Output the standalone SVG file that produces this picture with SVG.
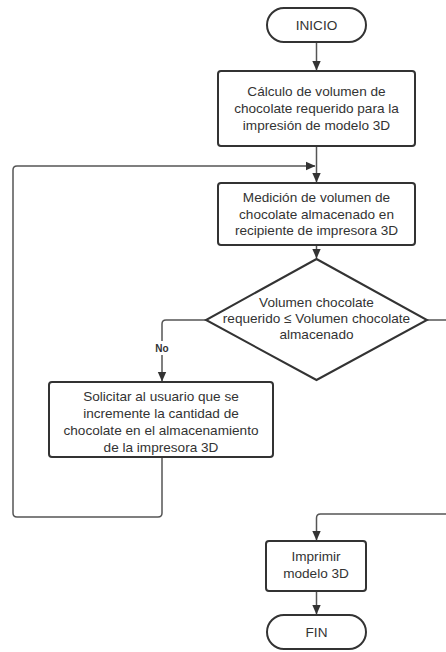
<svg xmlns="http://www.w3.org/2000/svg" width="446" height="652" viewBox="0 0 446 652">
<style>
.n{fill:#fff;stroke:#333;stroke-width:2}
.t{font-family:"Liberation Sans",Arial,sans-serif;font-size:13.6px;fill:#333;text-anchor:middle;dominant-baseline:central}
.c{fill:none;stroke:#555;stroke-width:1.5}
.lb{font-family:"Liberation Sans",Arial,sans-serif;font-size:10px;font-weight:bold;fill:#333;text-anchor:middle;dominant-baseline:central}
</style>
<defs>
<marker id="a" markerWidth="10" markerHeight="10" refX="9" refY="5" orient="auto" markerUnits="userSpaceOnUse">
<path d="M0,0.8 L9.5,5 L0,9.2 Z" fill="#333"/>
</marker>
</defs>
<rect width="446" height="652" fill="#fff"/>
<g id="connectors">
<path class="c" d="M316.5,42 V70" marker-end="url(#a)"/>
<path class="c" d="M316.5,146 V182" marker-end="url(#a)"/>
<path class="c" d="M162,457 V513 Q162,517 158,517 H17 Q13,517 13,513 V170 Q13,166 17,166 H315" marker-end="url(#a)"/>
<path class="c" d="M316.5,245 V258" marker-end="url(#a)"/>
<path class="c" d="M206,320 H166 Q162,320 162,324 V381" marker-end="url(#a)"/>
<path class="c" d="M427,320 H446"/>
<path class="c" d="M446,514 H320.5 Q316.5,514 316.5,518 V540" marker-end="url(#a)"/>
<path class="c" d="M316.5,591 V614" marker-end="url(#a)"/>
<rect x="153" y="341" width="18" height="14" fill="#fff"/>
<text class="lb" x="162" y="348">No</text>
</g>
<g id="inicio">
<rect class="n" x="267" y="8" width="99" height="34" rx="17"/>
<text class="t" x="316.5" y="25">INICIO</text>
</g>
<g id="calculo">
<rect class="n" x="218" y="71" width="197" height="75" rx="3"/>
<text class="t" x="316.5" y="91.5">Cálculo de volumen de</text>
<text class="t" x="316.5" y="108.5">chocolate requerido para la</text>
<text class="t" x="316.5" y="125.5">impresión de modelo 3D</text>
</g>
<g id="medicion">
<rect class="n" x="218" y="183" width="197" height="62" rx="3"/>
<text class="t" x="316.5" y="197.5">Medición de volumen de</text>
<text class="t" x="316.5" y="214">chocolate almacenado en</text>
<text class="t" x="316.5" y="230.5">recipiente de impresora 3D</text>
</g>
<g id="decision">
<path class="n" d="M316.5,259 L427,320 L316.5,380 L206,320 Z"/>
<text class="t" x="316.5" y="302">Volumen chocolate</text>
<text class="t" x="316.5" y="318">requerido ≤ Volumen chocolate</text>
<text class="t" x="316.5" y="334">almacenado</text>
</g>
<g id="solicitar">
<rect class="n" x="49" y="382" width="224" height="75" rx="3"/>
<text class="t" x="161" y="396">Solicitar al usuario que se</text>
<text class="t" x="161" y="413">incremente la cantidad de</text>
<text class="t" x="161" y="430">chocolate en el almacenamiento</text>
<text class="t" x="161" y="447">de la impresora 3D</text>
</g>
<g id="imprimir">
<rect class="n" x="266" y="541" width="100" height="50" rx="3"/>
<text class="t" x="316" y="556">Imprimir</text>
<text class="t" x="316" y="573">modelo 3D</text>
</g>
<g id="fin">
<rect class="n" x="267" y="615" width="99" height="34" rx="17"/>
<text class="t" x="316.5" y="632">FIN</text>
</g>
</svg>
